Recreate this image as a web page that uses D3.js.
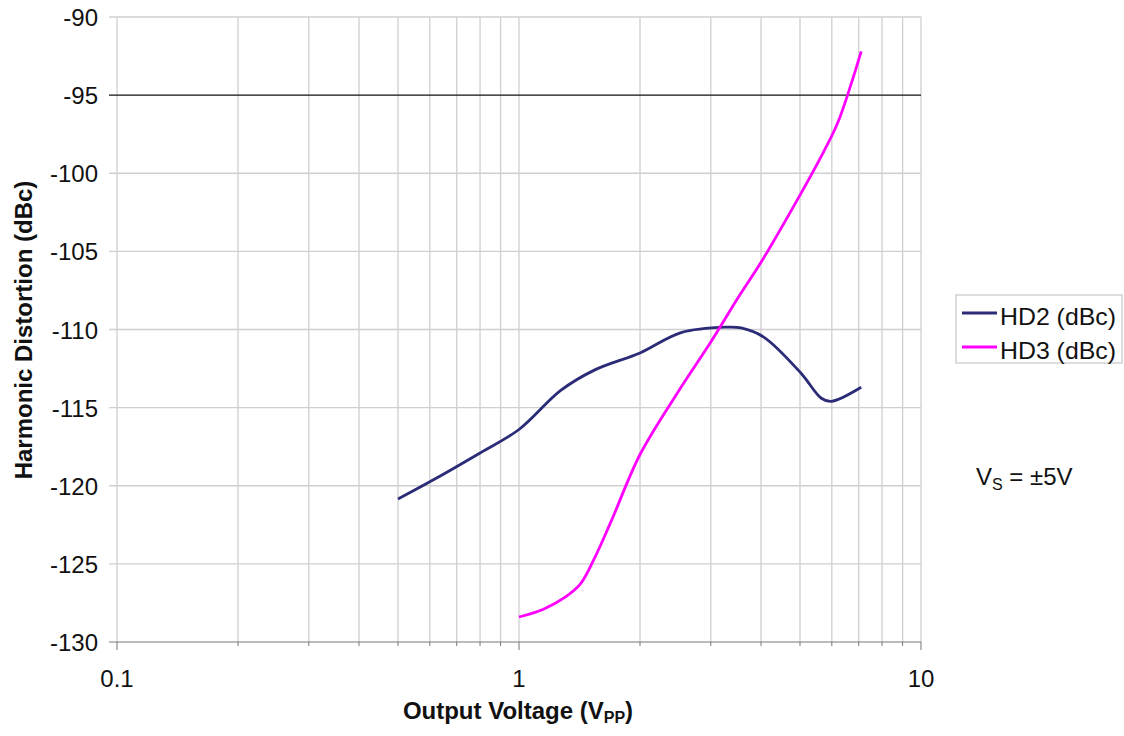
<!DOCTYPE html>
<html>
<head>
<meta charset="utf-8">
<script src="https://cdn.jsdelivr.net/npm/d3@7"></script>
<style>
  body { margin: 0; background: #fff; }
  text { font-family: "Liberation Sans", Arial, sans-serif; }
</style>
</head>
<body>
<svg id="chart" width="1124" height="736"></svg>
<script>
// values
const hd2Volts = [0.5, 0.6, 0.8, 1.0, 1.27, 1.54, 2.0, 2.53, 3.27, 3.57, 4.07, 5.03, 5.65, 5.98, 7.1];
const hd2Values = [-120.85, -119.75, -117.9, -116.4, -113.9, -112.6, -111.5, -110.2, -109.85, -109.9, -110.5, -112.8, -114.4, -114.6, -113.7];
const hd3Volts = [1.0, 1.15, 1.3, 1.42, 1.55, 1.7, 2.0, 2.5, 3.0, 3.5, 4.0, 5.0, 5.6, 6.2, 6.7, 7.1];
const hd3Values = [-128.4, -127.9, -127.15, -126.3, -124.5, -122.2, -118.0, -113.9, -110.8, -108.0, -105.7, -101.4, -99.1, -96.8, -94.3, -92.2];
const yTicks = [-90, -95, -100, -105, -110, -115, -120, -125, -130];
const xMajor = [0.1, 1, 10];
const xMinor = [0.2, 0.3, 0.4, 0.5, 0.6, 0.7, 0.8, 0.9, 2, 3, 4, 5, 6, 7, 8, 9];

const svg = d3.select("#chart");
const x = d3.scaleLog().domain([0.1, 10]).range([117, 921]);
const y = d3.scaleLinear().domain([-130, -90]).range([642, 17]);

// vertical grid
svg.append("g").selectAll("line")
  .data(xMinor.concat(xMajor))
  .join("line")
  .attr("x1", d => x(d)).attr("x2", d => x(d))
  .attr("y1", y(-90)).attr("y2", y(-130))
  .attr("stroke", "#cfcfcf").attr("stroke-width", 1.3);

// horizontal grid
svg.append("g").selectAll("line")
  .data(yTicks.filter(d => d !== -95 && d !== -130))
  .join("line")
  .attr("x1", 109).attr("x2", x(10))
  .attr("y1", d => y(d)).attr("y2", d => y(d))
  .attr("stroke", "#cfcfcf").attr("stroke-width", 1.3);

// black line at -95
svg.append("line")
  .attr("x1", 109).attr("x2", x(10)).attr("y1", y(-95)).attr("y2", y(-95))
  .attr("stroke", "#111").attr("stroke-width", 1.2);

// bottom axis
const xAxis = svg.append("g");
xAxis.append("line")
  .attr("x1", 109).attr("x2", x(10)).attr("y1", y(-130)).attr("y2", y(-130))
  .attr("stroke", "#777").attr("stroke-width", 1);
xAxis.selectAll(".minor").data(xMinor).join("line")
  .attr("x1", d => x(d)).attr("x2", d => x(d))
  .attr("y1", y(-130)).attr("y2", y(-130) + 4)
  .attr("stroke", "#777");
xAxis.selectAll(".major").data(xMajor).join("line")
  .attr("x1", d => x(d)).attr("x2", d => x(d))
  .attr("y1", y(-130)).attr("y2", y(-130) + 8)
  .attr("stroke", "#777");
xAxis.selectAll("text").data(xMajor).join("text")
  .attr("x", d => x(d)).attr("y", 687)
  .attr("text-anchor", "middle").attr("font-size", 24).attr("fill", "#111")
  .text(d => d3.format("~g")(d));

// y labels
svg.append("g").selectAll("text").data(yTicks).join("text")
  .attr("x", 98).attr("y", d => y(d) + 9)
  .attr("text-anchor", "end").attr("font-size", 24).attr("fill", "#111")
  .text(d => d);

// axis titles
const xt = svg.append("text")
  .attr("x", 518).attr("y", 719).attr("text-anchor", "middle")
  .attr("font-size", 24).attr("font-weight", "bold").attr("fill", "#111");
xt.append("tspan").text("Output Voltage (V");
xt.append("tspan").attr("font-size", 16).attr("dy", 4).text("PP");
xt.append("tspan").attr("dy", -4).text(")");

svg.append("text")
  .attr("transform", "translate(32,330) rotate(-90)")
  .attr("text-anchor", "middle").attr("font-size", 24).attr("font-weight", "bold")
  .attr("fill", "#111")
  .text("Harmonic Distortion (dBc)");

// lines
const line = d3.line().x(d => x(d[0])).y(d => y(d[1])).curve(d3.curveCatmullRom.alpha(0.5));
svg.append("path")
  .datum(d3.zip(hd2Volts, hd2Values))
  .attr("d", line).attr("fill", "none")
  .attr("stroke", "#2b2b78").attr("stroke-width", 2.8);
svg.append("path")
  .datum(d3.zip(hd3Volts, hd3Values))
  .attr("d", line).attr("fill", "none")
  .attr("stroke", "#ff00ff").attr("stroke-width", 2.8);

// legend
const lg = svg.append("g");
lg.append("rect").attr("x", 956).attr("y", 295).attr("width", 166).attr("height", 68)
  .attr("fill", "#fff").attr("stroke", "#bbb");
const legendItems = [["HD2 (dBc)", "#2b2b78", 313], ["HD3 (dBc)", "#ff00ff", 347]];
legendItems.forEach(([label, color, ly]) => {
  lg.append("line").attr("x1", 962).attr("x2", 997).attr("y1", ly).attr("y2", ly)
    .attr("stroke", color).attr("stroke-width", 2.8);
  lg.append("text").attr("x", 1000).attr("y", ly + 12).attr("font-size", 24)
    .attr("textLength", 116).attr("lengthAdjust", "spacingAndGlyphs")
    .attr("fill", "#111").text(label);
});

// supply note
const vs = svg.append("text").attr("x", 976).attr("y", 485).attr("font-size", 24).attr("fill", "#111");
vs.append("tspan").text("V");
vs.append("tspan").attr("font-size", 16).attr("dy", 5).text("S");
vs.append("tspan").attr("dy", -5).text(" = ±5V");
</script>
</body>
</html>
